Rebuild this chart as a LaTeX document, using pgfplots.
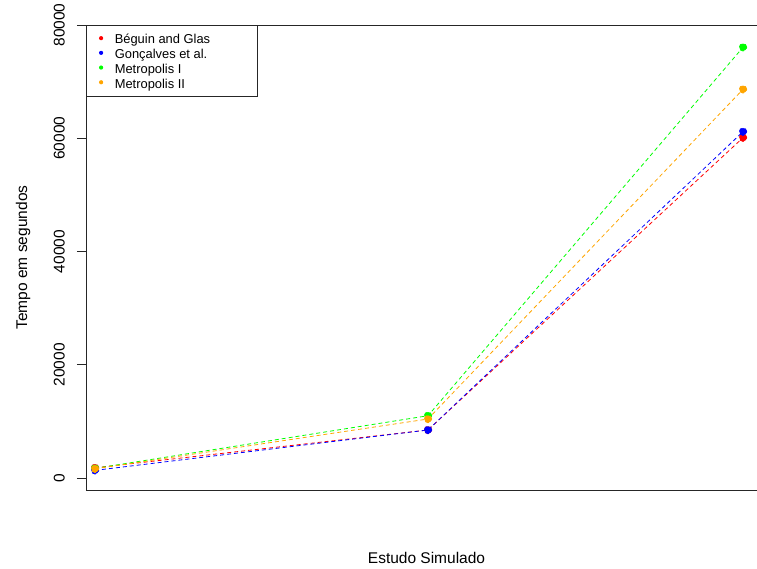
\documentclass[border=0pt]{standalone}
\usepackage{fontspec}
\setmainfont{Liberation Sans}
\usepackage{graphicx}
\usepackage{pgfplots}
\pgfplotsset{compat=1.18}
\definecolor{rorange}{RGB}{255,165,0}
\definecolor{rgreen}{RGB}{0,255,0}
\newcommand{\lent}[1]{\makebox[141pt][l]{#1}}
\begin{document}
\begin{tikzpicture}
\path[use as bounding box] (-86pt,-78pt) rectangle (671pt,490pt);
\begin{axis}[
  at={(0pt,0pt)}, anchor=south west,
  width=671pt, height=465pt, scale only axis,
  xmin=86, xmax=757, ymin=-2120, ymax=80000,
  axis x line*=box, axis y line*=left,
  xtick=\empty,
  ytick={0,20000,40000,60000,80000},
  scaled y ticks=false,
  /pgf/number format/1000 sep={},
  /pgf/number format/assume math mode=true,
  yticklabel={\rotatebox{90}{\pgfmathprintnumber{\tick}}},
  yticklabel style={anchor=east, inner sep=0pt, xshift=-12pt, font=\fontsize{15.5}{18}\selectfont},
  tick align=outside, major tick length=9pt, ytick pos=left,
  axis line style={line width=0.8pt, black!85},
  tick style={line width=0.8pt, black!85},
  ylabel={Tempo em segundos},
  xlabel={Estudo Simulado},
  every axis y label/.style={at={(axis description cs:0,0.5)}, xshift=-63pt, rotate=90, anchor=center, font=\fontsize{15.5}{18}\selectfont},
  every axis x label/.style={at={(axis description cs:0.5,0)}, anchor=center, xshift=5pt, yshift=-68pt, font=\fontsize{15.5}{18}\selectfont},
  legend style={at={(axis description cs:0,1)}, anchor=north west, draw=black!85, line width=0.8pt,
    font=\fontsize{12.9}{14.7}\selectfont, inner xsep=2pt, inner ysep=6pt, row sep=0pt,
    nodes={inner sep=0pt, text height=12.5pt, text depth=2.2pt}},
  legend cell align=left,
  every axis plot/.append style={line width=0.8pt, dash pattern=on 4pt off 3pt, mark=*, mark size=3.7pt, mark options={solid, draw=none}},
]
\addlegendimage{legend image code/.code={\fill[red, draw=none] (0pt,0.6pt) circle (2.1pt); \path[draw=none, fill=none] (-12.7pt,0pt) -- (13.7pt,0pt);}}
\addlegendentry{\lent{Béguin and Glas}}
\addlegendimage{legend image code/.code={\fill[blue, draw=none] (0pt,0.6pt) circle (2.1pt); \path[draw=none, fill=none] (-12.7pt,0pt) -- (13.7pt,0pt);}}
\addlegendentry{\lent{Gonçalves et al.}}
\addlegendimage{legend image code/.code={\fill[rgreen, draw=none] (0pt,0.6pt) circle (2.1pt); \path[draw=none, fill=none] (-12.7pt,0pt) -- (13.7pt,0pt);}}
\addlegendentry{\lent{Metropolis I}}
\addlegendimage{legend image code/.code={\fill[rorange, draw=none] (0pt,0.6pt) circle (2.1pt); \path[draw=none, fill=none] (-12.7pt,0pt) -- (13.7pt,0pt);}}
\addlegendentry{\lent{Metropolis II}}
\addplot[red, mark options={fill=red}, forget plot] coordinates {(95,1800) (428,8480) (743,60100)};
\addplot[blue, mark options={fill=blue}, forget plot] coordinates {(95,1350) (428,8480) (743,61160)};
\addplot[rgreen, mark options={fill=rgreen}, forget plot] coordinates {(95,1700) (428,11000) (743,76060)};
\addplot[rorange, mark options={fill=rorange}, forget plot] coordinates {(95,1620) (428,10420) (743,68640)};
\end{axis}
\end{tikzpicture}
\end{document}
